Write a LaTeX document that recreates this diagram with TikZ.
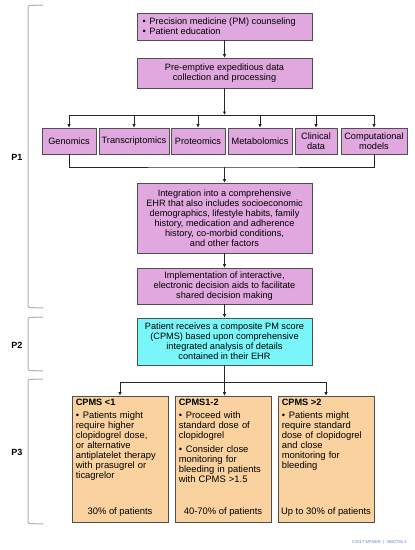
\documentclass[tikz,border=0pt]{standalone}
\usepackage{fontspec}
\setmainfont{Liberation Sans}
\usetikzlibrary{arrows.meta,shadows}
\definecolor{pinkbox}{RGB}{224,168,222}
\definecolor{cyanbox}{RGB}{120,246,250}
\definecolor{orangebox}{RGB}{250,210,160}
\definecolor{boxline}{RGB}{80,80,80}
\definecolor{brk}{RGB}{175,175,175}
\definecolor{copyc}{RGB}{90,140,205}
\newcommand{\bitem}[1]{\par\noindent\hangindent=7pt\hangafter=1\makebox[7pt][l]{\textbullet}#1\par}
\begin{document}
\begin{tikzpicture}[x=1pt,y=-1pt,
  font=\fontsize{9.2}{10}\selectfont,
  box/.style={draw=boxline,line width=0.8pt,inner sep=0pt,align=center,
    drop shadow={shadow xshift=1pt,shadow yshift=-1pt,opacity=0.35,fill=black}},
  pbox/.style={box,fill=pinkbox},
  cbox/.style={box,fill=cyanbox},
  obox/.style={box,fill=orangebox},
  arr/.style={-{Latex[length=3.5pt,width=3.5pt]},line width=0.7pt,draw=black!85},
  ln/.style={line width=0.7pt,draw=black!85},
  brace/.style={draw=brk,line width=1pt,rounded corners=2pt},
  plabel/.style={font=\fontsize{9}{10}\selectfont\bfseries},
  btxt/.style={anchor=north west,inner sep=0pt,text width=90pt,align=left,font=\fontsize{9.4}{10}\selectfont},
  ttl/.style={anchor=west,inner sep=0pt,font=\fontsize{9.2}{10}\selectfont\bfseries}
]
\useasboundingbox (0,0) rectangle (415,550);
% top boxes
\node[pbox,minimum width=175pt,minimum height=27pt,align=left] (b1) at (224.5,26.5)
  {\parbox{164pt}{\bitem{Precision medicine (PM) counseling}\bitem{Patient education}}};
\node[pbox,minimum width=175pt,minimum height=30pt] (b2) at (224.5,73)
  {Pre-emptive expeditious data\\collection and processing};
% omics
\node[pbox,minimum width=54pt,minimum height=26pt] (g1) at (69,141) {Genomics};
\node[pbox,minimum width=70pt,minimum height=26pt] (g2) at (134,141) {Transcriptomics};
\node[pbox,minimum width=54pt,minimum height=26pt] (g3) at (198,141) {Proteomics};
\node[pbox,minimum width=64pt,minimum height=26pt] (g4) at (260,141) {Metabolomics};
\node[pbox,minimum width=42pt,minimum height=26pt] (g5) at (316,141) {Clinical\\data};
\node[pbox,minimum width=66pt,minimum height=26pt] (g6) at (374,141) {Computational\\models};
% middle
\node[pbox,minimum width=175pt,minimum height=70pt] (b3) at (224.5,218)
  {Integration into a comprehensive\\EHR that also includes socioeconomic\\demographics, lifestyle habits, family\\history, medication and adherence\\history, co-morbid conditions,\\and other factors};
\node[pbox,minimum width=175pt,minimum height=36pt] (b4) at (224.5,286)
  {Implementation of interactive,\\electronic decision aids to facilitate\\shared decision making};
\node[cbox,minimum width=175pt,minimum height=47pt] (b5) at (224.5,341.5)
  {Patient receives a composite PM score\\(CPMS) based upon comprehensive\\integrated analysis of details\\contained in their EHR};
% bottom boxes
\node[obox,minimum width=96pt,minimum height=126pt] (oa) at (120,459) {};
\node[obox,minimum width=96pt,minimum height=126pt] (ob) at (223,459) {};
\node[obox,minimum width=96pt,minimum height=126pt] (oc) at (326,459) {};
\node[ttl] (ta) at ([xshift=4pt,yshift=-7pt]oa.north west) {CPMS <1};
\node[ttl] (tb) at ([xshift=4pt,yshift=-7pt]ob.north west) {CPMS1-2};
\node[ttl] (tc) at ([xshift=4pt,yshift=-7pt]oc.north west) {CPMS >2};
\node[btxt] (xa) at ([xshift=4pt,yshift=-13pt]oa.north west)
  {\bitem{Patients might\\require higher\\clopidogrel dose,\\or alternative\\antiplatelet therapy\\with prasugrel or\\ticagrelor}};
\node[btxt] (xb) at ([xshift=4pt,yshift=-13pt]ob.north west)
  {\bitem{Proceed with\\standard dose of\\clopidogrel}\vspace{4pt}\bitem{Consider close\\monitoring for\\bleeding in patients\\with CPMS >1.5}};
\node[btxt] (xc) at ([xshift=4pt,yshift=-13pt]oc.north west)
  {\bitem{Patients might\\require standard\\dose of clopidogrel\\and close\\monitoring for\\bleeding}};
\node[inner sep=0pt,font=\fontsize{9.4}{10}\selectfont] (pa) at ([yshift=10pt]oa.south) {30\% of patients};
\node[inner sep=0pt,font=\fontsize{9.4}{10}\selectfont] (pb) at ([yshift=10pt]ob.south) {40-70\% of patients};
\node[inner sep=0pt,font=\fontsize{9.4}{10}\selectfont] (pc) at ([yshift=10pt]oc.south) {Up to 30\% of patients};
% connectors
\coordinate (j1) at (224.5,115);
\coordinate (j2) at (224.5,167);
\coordinate (j3) at (224.5,382);
\draw[arr] (b1) -- (b2);
\draw[arr] (b2) -- (j1);
\draw[ln] (j1 -| g1.north) -- (j1 -| g6.north);
\foreach \n in {g1,g2,g3,g4,g5,g6} \draw[arr] (j1 -| \n.north) -- (\n.north);
\draw[ln] (g1.south) |- (j2) -| (g6.south);
\draw[arr] (j2) -- (b3);
\draw[arr] (b3) -- (b4);
\draw[arr] (b4) -- (b5);
\draw[ln] (b5.south) -- (j3);
\draw[ln] (j3 -| oa.north) -- (j3 -| oc.north);
\draw[arr] (j3 -| oa.north) -- (oa.north);
\draw[arr] (j3) -- (j3 |- ob.north);
\draw[arr] (j3 -| oc.north) -- (oc.north);
% brackets
\draw[brace] (43,5) -- (28,5.5) -- (28,307.5) -- (43,308);
\draw[brace] (43,317) -- (28,317.5) -- (28,370.5) -- (43,371);
\draw[brace] (43,379) -- (28,379.5) -- (28,523.5) -- (43,524);
\node[plabel] (p1) at (17,157) {P1};
\node[plabel] (p2) at (17,345) {P2};
\node[plabel] (p3) at (17,452) {P3};
\node[anchor=east,inner sep=0pt,text=copyc,font=\fontsize{4.2}{5}\selectfont] (cp) at (407,542) {\textcopyright 2017 MFMER\ \ |\ \ 3690755-1};
\end{tikzpicture}
\end{document}
